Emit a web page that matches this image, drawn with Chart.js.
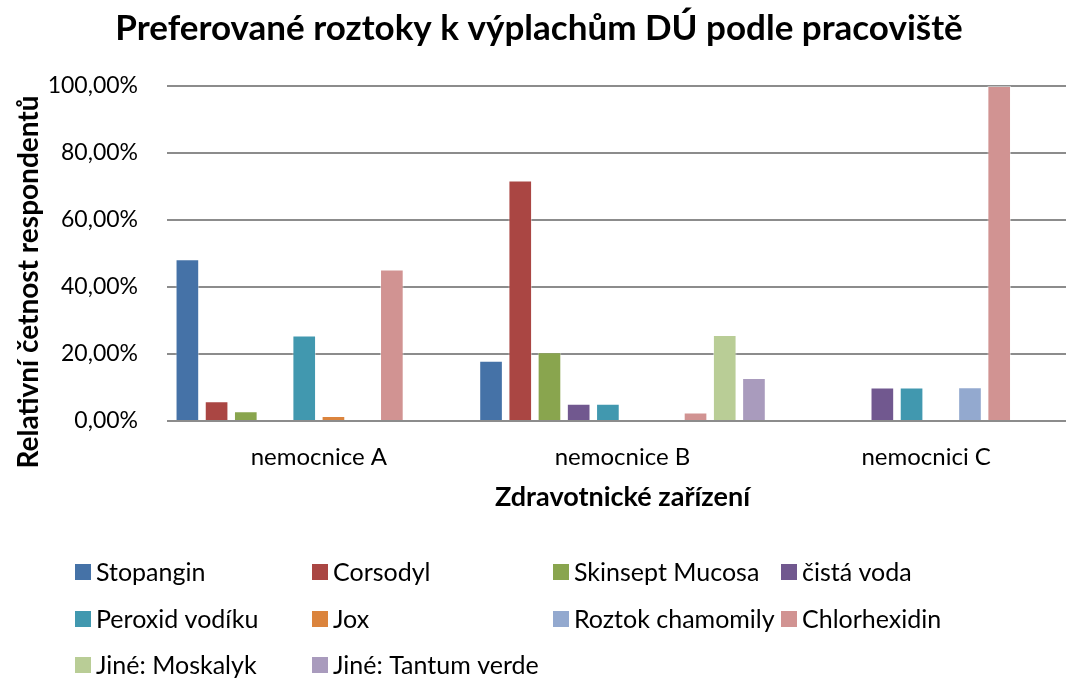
<!DOCTYPE html>
<html>
<head>
<meta charset="utf-8">
<script src="https://cdn.jsdelivr.net/npm/chart.js@4"></script>
<style>
  html, body { margin: 0; padding: 0; background: #fff; overflow: hidden; }
  #wrap { width: 1080px; height: 690px; }
</style>
</head>
<body>
<div id="wrap"><canvas id="myChart"></canvas></div>
<script>
// ---------------- data ----------------
var categories = ['nemocnice A', 'nemocnice B', 'nemocnici C'];

var stopangin    = [48.3, 17.95, 0];
var corsodyl     = [5.9, 71.79, 0];
var skinsept     = [2.9, 20.51, 0];
var cistaVoda    = [0, 5.13, 10];
var peroxid      = [25.5, 5.13, 10];
var jox          = [1.5, 0, 0];
var chamomily    = [0, 0, 10.1];
var chlorhexidin = [45.2, 2.56, 100];
var moskalyk     = [0, 25.64, 0];
var tantum       = [0, 12.82, 0];

var seriesNames = ['Stopangin', 'Corsodyl', 'Skinsept Mucosa', 'čistá voda', 'Peroxid vodíku',
  'Jox', 'Roztok chamomily', 'Chlorhexidin', 'Jiné: Moskalyk', 'Jiné: Tantum verde'];
var seriesValues = [stopangin, corsodyl, skinsept, cistaVoda, peroxid,
  jox, chamomily, chlorhexidin, moskalyk, tantum];
var seriesColors = ['#4572A7', '#AA4643', '#89A54E', '#71588F', '#4198AF',
  '#DB843D', '#93A9CF', '#D19392', '#B9CD96', '#A99BBD'];

var yTicks = [0, 20, 40, 60, 80, 100];

var FONT = 'Lato';

// legend in 4 columns + rotated y title (drawn by hand like Excel does)
var legendGrid = {
  id: 'legendGrid',
  afterDraw: function (chart) {
    var ctx = chart.ctx;
    var cols = [75, 312, 553, 781];
    var rows = [572, 619, 665];
    ctx.save();
    ctx.font = '25px ' + FONT;
    ctx.textBaseline = 'middle';
    ctx.textAlign = 'left';
    chart.data.datasets.forEach(function (ds, i) {
      var x = cols[i % 4];
      var y = rows[Math.floor(i / 4)];
      ctx.fillStyle = ds.backgroundColor;
      ctx.fillRect(x, y - 8, 16, 16);
      ctx.fillStyle = '#000';
      ctx.fillText(ds.label, x + 21, y + 1);
    });

    // y axis title
    ctx.translate(29, 282);
    ctx.rotate(-Math.PI / 2);
    ctx.font = 'bold 28px ' + FONT;
    ctx.textAlign = 'center';
    ctx.fillText('Relativní četnost respondentů', 0, 0);
    ctx.restore();
  }
};

var datasets = seriesNames.map(function (name, i) {
  return {
    label: name,
    data: seriesValues[i],
    backgroundColor: seriesColors[i],
    borderColor: 'rgba(255,255,255,0.45)',
    borderWidth: 1,
    categoryPercentage: 0.962,
    barPercentage: 0.81
  };
});

var ctx = document.getElementById('myChart').getContext('2d');
var myChart = new Chart(ctx, {
  type: 'bar',
  data: { labels: categories, datasets: datasets },
  options: {
    responsive: true,
    maintainAspectRatio: false,
    animation: false,
    layout: { padding: { left: 0, right: 2, top: 0, bottom: 177 } },
    plugins: {
      legend: { display: false },
      tooltip: { enabled: false },
      title: {
        display: true,
        text: 'Preferované roztoky k výplachům DÚ podle pracoviště',
        color: '#000',
        font: { family: FONT, size: 35, weight: 'bold' },
        padding: { top: 8, bottom: 36 }
      }
    },
    scales: {
      x: {
        afterFit: function (scale) { scale.height = 92; },
        grid: { display: false, drawTicks: false },
        border: { display: false },
        ticks: { color: '#000', font: { family: FONT, size: 24 }, padding: 22 },
        title: {
          display: true,
          text: 'Zdravotnické zařízení',
          color: '#000',
          font: { family: FONT, size: 27, weight: 'bold' },
          padding: { top: 0, bottom: 0 }
        }
      },
      y: {
        min: 0,
        max: 100,
        afterFit: function (scale) { scale.width = 167; },
        afterBuildTicks: function (scale) {
          scale.ticks = yTicks.map(function (v) { return { value: v }; });
        },
        grid: { color: '#8c8c8c', lineWidth: 2, drawTicks: false },
        border: { display: false },
        ticks: {
          color: '#000',
          font: { family: FONT, size: 23 },
          padding: 29,
          callback: function (v) { return v.toFixed(2).replace('.', ',') + '%'; }
        }
      }
    }
  },
  plugins: [legendGrid]
});
</script>
</body>
</html>
